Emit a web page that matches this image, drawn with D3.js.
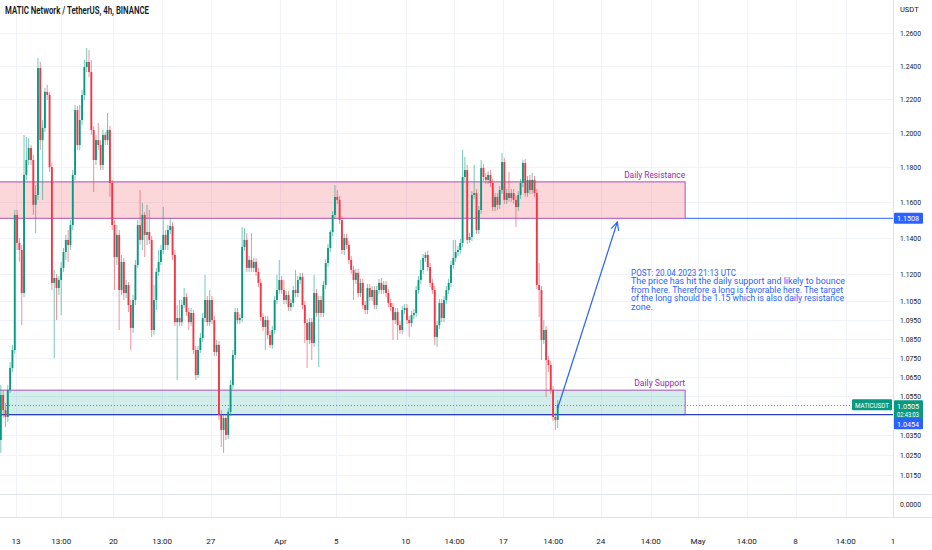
<!DOCTYPE html>
<html><head><meta charset="utf-8">
<script src="https://cdn.jsdelivr.net/npm/d3@7"></script>
<style>html,body{margin:0;padding:0;background:#fff;overflow:hidden}text{font-family:Roboto,"Noto Sans",sans-serif}</style>
</head><body><svg id="c" width="932" height="550"></svg>
<script>
// ---- data (MATIC/USDT 4h candles) ----
const firstOpen = 1.0325;
const closes = [
1.0555,1.0478,1.0442,1.0581,1.0695,1.0790,1.1527,1.1370,1.1331,1.1095,
1.1755,1.1841,1.1911,1.1841,1.1584,1.1640,1.2386,1.1957,1.2028,1.2242,
1.2224,1.1800,1.1150,1.1177,1.1122,1.1166,1.1232,1.1320,1.1387,1.1359,
1.1470,1.1755,1.2134,1.1928,1.2075,1.2224,1.2392,1.2423,1.2362,1.2016,
1.1841,1.1957,1.1928,1.1812,1.1987,1.1957,1.2016,1.1709,1.1470,1.1292,
1.1415,1.1111,1.1265,1.1095,1.1139,1.1030,1.0907,1.1057,1.1248,1.1470,
1.1387,1.1527,1.1415,1.1431,1.1387,1.0896,1.1057,1.1210,1.1265,1.1331,
1.1415,1.1359,1.1442,1.1464,1.1304,1.0938,1.0960,1.0938,1.1030,1.1073,
1.0992,1.0938,1.0987,1.0790,1.0659,1.0790,1.0854,1.0960,1.1057,1.0938,
1.1057,1.0949,1.0779,1.0817,1.0453,1.0376,1.0437,1.0351,1.0468,1.0607,
1.0764,1.0992,1.0949,1.0960,1.1348,1.1387,1.1232,1.1276,1.1232,1.1265,
1.1210,1.1150,1.0965,1.0912,1.0949,1.0870,1.0817,1.0896,1.1057,1.1111,
1.1166,1.1111,1.1057,1.1084,1.1019,1.1041,1.1111,1.1095,1.1166,1.1183,
1.1030,1.0933,1.0843,1.0938,1.0827,1.1095,1.0987,1.1057,1.0987,1.1139,
1.1259,1.1342,1.1431,1.1527,1.1629,1.1612,1.1498,1.1331,1.1398,1.1359,
1.1276,1.1221,1.1166,1.1205,1.1095,1.1150,1.1030,1.1003,1.1122,1.1073,
1.1111,1.1030,1.1111,1.1150,1.1111,1.1139,1.1095,1.1041,1.1019,1.0949,
1.0992,1.0922,1.0896,1.1003,1.1014,1.0949,1.0933,1.0976,1.0987,1.1111,
1.1166,1.1221,1.1287,1.1304,1.1237,1.1150,1.1111,1.0859,1.0922,1.1041,
1.0960,1.1057,1.1111,1.1150,1.1248,1.1287,1.1320,1.1331,1.1370,1.1743,
1.1783,1.1387,1.1403,1.1640,1.1651,1.1442,1.1555,1.1795,1.1743,1.1726,
1.1755,1.1709,1.1572,1.1629,1.1584,1.1668,1.1829,1.1612,1.1651,1.1623,
1.1651,1.1612,1.1572,1.1640,1.1709,1.1824,1.1651,1.1726,1.1668,1.1726,
1.1651,1.1139,1.1111,1.0843,1.0896,1.0737,1.0711,1.0581,1.0442,1.0427,
1.0505];
const highs = [
1.0607,1.0581,1.0514,1.0607,1.0727,1.0817,1.1555,1.1555,1.1398,1.1359,
1.1987,1.1975,1.1969,1.1928,1.1870,1.1697,1.2447,1.2423,1.2075,1.2266,
1.2284,1.2242,1.1824,1.1221,1.1199,1.1188,1.1265,1.1342,1.1415,1.1442,
1.1498,1.1783,1.2164,1.2158,1.2164,1.2254,1.2435,1.2508,1.2496,1.2435,
1.2040,1.1987,1.2057,1.1957,1.2016,1.2004,1.2116,1.2040,1.1726,1.1498,
1.1470,1.1442,1.1304,1.1287,1.1166,1.1155,1.1057,1.1084,1.1276,1.1498,
1.1668,1.1595,1.1544,1.1584,1.1555,1.1409,1.1139,1.1232,1.1331,1.1359,
1.1572,1.1442,1.1470,1.1509,1.1487,1.1331,1.1030,1.1057,1.1057,1.1122,
1.1095,1.1014,1.1014,1.1003,1.0811,1.0811,1.0880,1.0987,1.1194,1.1079,
1.1111,1.1079,1.0971,1.0843,1.0838,1.0478,1.0458,1.0458,1.0488,1.0633,
1.0790,1.1014,1.1014,1.0981,1.1459,1.1453,1.1425,1.1298,1.1425,1.1287,
1.1287,1.1232,1.1172,1.0987,1.0971,1.0971,1.0891,1.0917,1.1079,1.1194,
1.1276,1.1188,1.1166,1.1106,1.1106,1.1062,1.1133,1.1221,1.1188,1.1205,
1.1205,1.1052,1.0954,1.0960,1.0960,1.1194,1.1117,1.1079,1.1079,1.1161,
1.1281,1.1365,1.1442,1.1549,1.1697,1.1668,1.1635,1.1521,1.1420,1.1420,
1.1381,1.1298,1.1243,1.1227,1.1227,1.1172,1.1172,1.1052,1.1144,1.1144,
1.1133,1.1133,1.1133,1.1172,1.1177,1.1161,1.1161,1.1117,1.1062,1.1041,
1.1014,1.1014,1.0944,1.1025,1.1035,1.1035,1.0971,1.0998,1.1008,1.1133,
1.1188,1.1276,1.1309,1.1320,1.1326,1.1259,1.1172,1.1133,1.0944,1.1062,
1.1062,1.1079,1.1133,1.1172,1.1270,1.1387,1.1387,1.1353,1.1392,1.1899,
1.1858,1.1812,1.1425,1.1662,1.1812,1.1674,1.1578,1.1841,1.1818,1.1766,
1.1777,1.1783,1.1732,1.1651,1.1651,1.1691,1.1882,1.1853,1.1674,1.1772,
1.1674,1.1674,1.1635,1.1662,1.1732,1.1841,1.1847,1.1749,1.1755,1.1766,
1.1749,1.1674,1.1259,1.1133,1.0949,1.0917,1.0758,1.0732,1.0602,1.0463,
1.0529];
const lows = [
1.0260,1.0437,1.0391,1.0417,1.0565,1.0675,1.0769,1.1331,1.1265,1.0922,
1.1073,1.1726,1.1812,1.1812,1.1527,1.1425,1.1612,1.1899,1.1612,1.2004,
1.2194,1.1772,1.1111,1.0748,1.0949,1.1084,1.0976,1.1210,1.1276,1.1265,
1.1331,1.1442,1.1726,1.1899,1.1899,1.2046,1.2194,1.2362,1.2332,1.1987,
1.1657,1.1812,1.1899,1.1783,1.1783,1.1928,1.1928,1.1629,1.1442,1.1111,
1.1248,1.0896,1.1084,1.1057,1.1068,1.0992,1.0790,1.0880,1.1030,1.1232,
1.1359,1.1331,1.1292,1.1359,1.1364,1.0859,1.0870,1.1003,1.1188,1.1248,
1.1309,1.1331,1.1331,1.1420,1.1276,1.0917,1.0633,1.0917,1.0917,1.1014,
1.0971,1.0896,1.0917,1.0769,1.0633,1.0643,1.0774,1.0832,1.0938,1.0917,
1.0917,1.0928,1.0758,1.0758,1.0427,1.0290,1.0260,1.0325,1.0330,1.0447,
1.0586,1.0742,1.0928,1.0928,1.0938,1.1326,1.1210,1.1210,1.1210,1.1210,
1.1188,1.1128,1.0944,1.0891,1.0790,1.0848,1.0801,1.0796,1.0875,1.1035,
1.1090,1.1090,1.1035,1.1035,1.0998,1.0998,1.1019,1.1073,1.1073,1.1144,
1.1008,1.0827,1.0695,1.0822,1.0737,1.0806,1.0965,1.0700,1.0965,1.0965,
1.1117,1.1237,1.1320,1.1409,1.1504,1.1589,1.1476,1.1309,1.1304,1.1337,
1.1254,1.1199,1.1057,1.1144,1.1073,1.1073,1.1008,1.0981,1.0981,1.1052,
1.1052,1.1008,1.1008,1.1090,1.1090,1.1090,1.1073,1.1019,1.0998,1.0843,
1.0928,1.0843,1.0875,1.0875,1.0981,1.0928,1.0859,1.0912,1.0954,1.0965,
1.1090,1.1144,1.1199,1.1265,1.1216,1.1128,1.1090,1.0817,1.0806,1.0901,
1.0938,1.0938,1.1035,1.1090,1.1128,1.1226,1.1265,1.1298,1.1309,1.1348,
1.1720,1.1364,1.1370,1.1381,1.1618,1.1420,1.1420,1.1532,1.1720,1.1703,
1.1703,1.1685,1.1549,1.1549,1.1555,1.1561,1.1646,1.1589,1.1589,1.1601,
1.1601,1.1589,1.1459,1.1549,1.1618,1.1685,1.1629,1.1629,1.1646,1.1646,
1.1629,1.1117,1.0965,1.0737,1.0822,1.0545,1.0675,1.0560,1.0422,1.0376,
1.0386];

const priceTicks = [1.26,1.24,1.22,1.20,1.18,1.16,1.14,1.12,1.105,1.095,1.085,1.075,1.065,1.055,1.035,1.025,1.015];
const timeTickDays = [1,4.25,8,11.5,15,20,24,29,32.5,36,39.6,43,46.6,50,53.5,57,60.6,64];
const timeTickLabels = ["13","13:00","20","13:00","27","Apr","5","10","14:00","17","14:00","24","14:00","May","14:00","8","14:00","1"];
const resistanceZone = [1.1508, 1.1715];
const supportZone = [1.0454, 1.0580];
const zoneEndDay = 49.07;
const lastPrice = 1.0505;
const arrowStart = [39.92, 1.0488];
const arrowEnd = [44.2, 1.1487];
const noteLines = ["POST: 20.04.2023 21:13 UTC",
 "The price has hit the daily support and likely to bounce",
 "from here. Therefore a long is favorable here. The target",
 "of the long should be 1.15 which is also daily resistance",
 "zone."];
const noteWidths = [105, 214, 212, 213, 22];

// ---- layout ----
const W = 932, H = 550, plotR = 893, plotB = 494, paneB = 517;
const svg = d3.select("#c");
const x = d3.scaleLinear().domain([0, 64]).range([2, plotR]);
const y = d3.scaleLog().domain([1, 1.26]).range([505.4, 33]);
const UP = "#089981", DOWN = "#f23645", BLUE = "#2962ff", PURPLE = "#9c27b0";

svg.append("rect").attr("width", W).attr("height", H).attr("fill", "#fff");
svg.append("defs").append("clipPath").attr("id", "plot").append("rect")
  .attr("x", 0).attr("y", 0).attr("width", plotR).attr("height", plotB);

// grid
const grid = svg.append("g");
grid.selectAll(".hg").data(priceTicks).join("line")
  .attr("x1", 0).attr("x2", plotR).attr("y1", d => Math.round(y(d)) + 0.5).attr("y2", d => Math.round(y(d)) + 0.5)
  .attr("stroke", "#f0f3fa");
grid.selectAll(".vg").data(timeTickDays).join("line")
  .attr("y1", 0).attr("y2", paneB).attr("x1", d => Math.round(x(d)) + 0.5).attr("x2", d => Math.round(x(d)) + 0.5)
  .attr("stroke", "#f0f3fa");

const plot = svg.append("g").attr("clip-path", "url(#plot)");

// zones
function zone(z, fill) {
  plot.append("rect").attr("x", -10).attr("width", x(zoneEndDay) + 10)
    .attr("y", y(z[1])).attr("height", y(z[0]) - y(z[1]))
    .attr("fill", fill).attr("stroke", PURPLE).attr("stroke-width", 1).attr("stroke-opacity", 0.8);
}
zone(resistanceZone, "rgba(242,54,69,0.2)");
zone(supportZone, "rgba(34,171,148,0.2)");

// horizontal levels
plot.append("line").attr("x1", x(zoneEndDay)).attr("x2", plotR)
  .attr("y1", y(resistanceZone[0])).attr("y2", y(resistanceZone[0])).attr("stroke", BLUE);
plot.append("line").attr("x1", 0).attr("x2", plotR)
  .attr("y1", y(supportZone[0])).attr("y2", y(supportZone[0])).attr("stroke", "#2b3fc0").attr("stroke-width", 1.2);
plot.append("line").attr("x1", 0).attr("x2", plotR)
  .attr("y1", Math.round(y(lastPrice)) + 0.5).attr("y2", Math.round(y(lastPrice)) + 0.5)
  .attr("stroke", UP).attr("stroke-dasharray", "1,2").attr("stroke-opacity", 0.8);

// candles
const candles = closes.map((c, i) => {
  const o = i === 0 ? firstOpen : closes[i - 1];
  return { d: (i - 0.5) / 6, o, c, h: Math.max(highs[i], o, c), l: Math.min(lows[i], o, c) };
});
const bw = (x(1 / 6) - x(0)) * 0.8;
const cg = plot.append("g");
cg.selectAll("line").data(candles).join("line")
  .attr("x1", d => x(d.d)).attr("x2", d => x(d.d))
  .attr("y1", d => y(d.h)).attr("y2", d => y(d.l))
  .attr("stroke", d => d.c >= d.o ? UP : DOWN).attr("stroke-width", 1).attr("stroke-opacity", 0.55);
cg.selectAll("rect").data(candles).join("rect")
  .attr("x", d => x(d.d) - bw / 2).attr("width", bw)
  .attr("y", d => y(Math.max(d.o, d.c)))
  .attr("height", d => Math.max(1, Math.abs(y(d.o) - y(d.c))))
  .attr("fill", d => d.c >= d.o ? UP : DOWN);

// arrow
const ax0 = x(arrowStart[0]), ay0 = y(arrowStart[1]), ax1 = x(arrowEnd[0]), ay1 = y(arrowEnd[1]);
plot.append("line").attr("x1", ax0).attr("y1", ay0).attr("x2", ax1).attr("y2", ay1)
  .attr("stroke", BLUE).attr("stroke-width", 1.2);
const ang = Math.atan2(ay1 - ay0, ax1 - ax0), al = 9, spread = 0.45;
plot.append("path")
  .attr("d", `M${ax1 - al * Math.cos(ang - spread)},${ay1 - al * Math.sin(ang - spread)}L${ax1},${ay1}L${ax1 - al * Math.cos(ang + spread)},${ay1 - al * Math.sin(ang + spread)}`)
  .attr("fill", "none").attr("stroke", BLUE).attr("stroke-width", 1.2);

// zone labels
svg.append("text").attr("x", x(zoneEndDay)).attr("y", y(resistanceZone[1]) - 4)
  .attr("text-anchor", "end").attr("font-size", 8.5).attr("fill", PURPLE)
  .attr("textLength", 61).attr("lengthAdjust", "spacingAndGlyphs").text("Daily Resistance");
svg.append("text").attr("x", x(zoneEndDay)).attr("y", y(supportZone[1]) - 4)
  .attr("text-anchor", "end").attr("font-size", 8.5).attr("fill", PURPLE)
  .attr("textLength", 51).attr("lengthAdjust", "spacingAndGlyphs").text("Daily Support");

// note
svg.append("g").selectAll("text").data(noteLines).join("text")
  .attr("x", 631).attr("y", (d, i) => 275.5 + i * 8.5)
  .attr("font-size", 9).attr("fill", BLUE)
  .attr("textLength", (d, i) => noteWidths[i]).attr("lengthAdjust", "spacingAndGlyphs")
  .text(d => d);

// title
svg.append("text").attr("x", 5).attr("y", 14).attr("font-size", 10.5).attr("font-weight", 600)
  .attr("fill", "#131722").attr("textLength", 144).attr("lengthAdjust", "spacingAndGlyphs")
  .text("MATIC Network / TetherUS, 4h, BINANCE");

// pane separators & axis border
svg.append("line").attr("x1", 0).attr("x2", W).attr("y1", plotB + 0.5).attr("y2", plotB + 0.5).attr("stroke", "#e0e3eb");
svg.append("line").attr("x1", 0).attr("x2", W).attr("y1", paneB + 0.5).attr("y2", paneB + 0.5).attr("stroke", "#e0e3eb");
svg.append("line").attr("x1", plotR + 0.5).attr("x2", plotR + 0.5).attr("y1", 0).attr("y2", paneB).attr("stroke", "#e0e3eb");

// price axis
svg.append("text").attr("x", 900).attr("y", 12).attr("font-size", 7.5).attr("fill", "#131722").text("USDT");
svg.append("g").selectAll("text").data(priceTicks).join("text")
  .attr("x", 900).attr("y", d => y(d) + 3).attr("font-size", 8).attr("fill", "#131722")
  .attr("textLength", 21).attr("lengthAdjust", "spacingAndGlyphs")
  .text(d => d.toFixed(4));
svg.append("text").attr("x", 900).attr("y", 507).attr("font-size", 8).attr("fill", "#131722")
  .attr("textLength", 21).attr("lengthAdjust", "spacingAndGlyphs").text((0).toFixed(4));

// price badges
function badge(yc, h, fill, lines) {
  svg.append("rect").attr("x", 894).attr("y", yc - h / 2).attr("width", 29).attr("height", h).attr("rx", 1).attr("fill", fill);
  lines.forEach((t, k) => svg.append("text").attr("x", 897).attr("y", yc - h / 2 + 8.5 + k * 8)
    .attr("font-size", 7.8).attr("fill", "#fff").attr("textLength", 22).attr("lengthAdjust", "spacingAndGlyphs").text(t));
}
badge(y(resistanceZone[0]), 11, BLUE, [resistanceZone[0].toFixed(4)]);
badge(y(lastPrice) + 5, 19, UP, [lastPrice.toFixed(4), "02:43:03"]);
badge(y(supportZone[0]) + 9, 11, BLUE, [supportZone[0].toFixed(4)]);
svg.append("rect").attr("x", 852).attr("y", y(lastPrice) - 5.5).attr("width", 40).attr("height", 11).attr("rx", 1).attr("fill", UP);
svg.append("text").attr("x", 855).attr("y", y(lastPrice) + 3).attr("font-size", 7.8).attr("fill", "#fff")
  .attr("textLength", 34).attr("lengthAdjust", "spacingAndGlyphs").text("MATICUSDT");

// time axis
svg.append("g").selectAll("text").data(timeTickDays).join("text")
  .attr("x", d => x(d)).attr("y", 544).attr("text-anchor", "middle")
  .attr("font-size", 8).attr("fill", "#131722")
  .text((d, i) => timeTickLabels[i]);
</script></body></html>
